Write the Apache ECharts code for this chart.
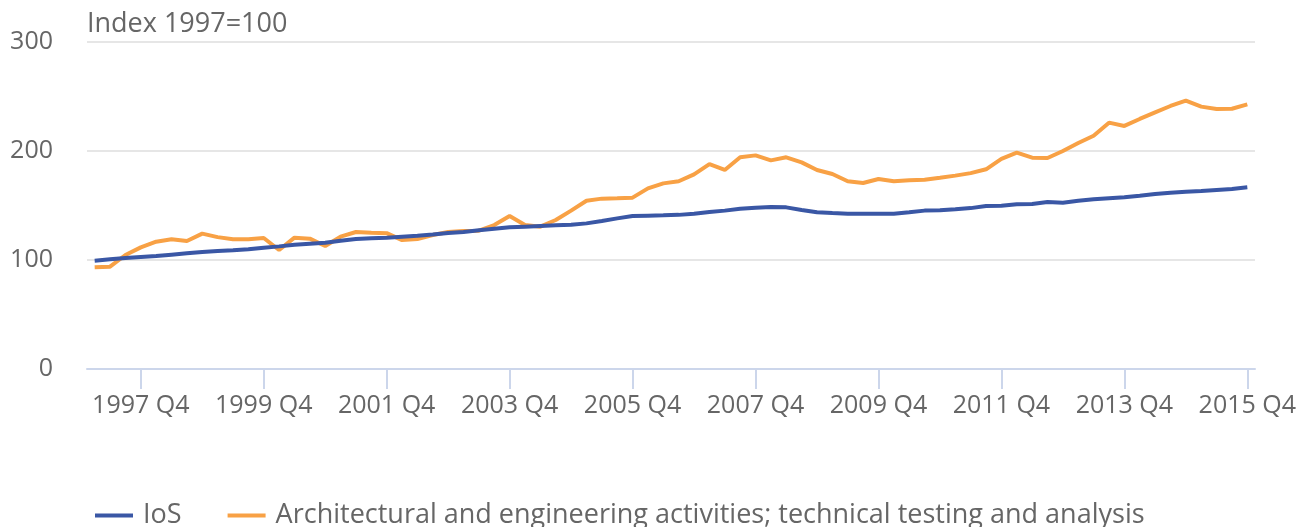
<!DOCTYPE html>
<html>
<head>
<meta charset="utf-8">
<script src="https://cdn.jsdelivr.net/npm/echarts@6/dist/echarts.min.js"></script>
<style>
html,body{margin:0;padding:0;background:#fff;}
#chart{width:1306px;height:527px;}
</style>
</head>
<body>
<div id="chart"></div>
<script>
var years = [1997,1998,1999,2000,2001,2002,2003,2004,2005,2006,2007,2008,2009,2010,2011,2012,2013,2014,2015];
var quarters = ['Q1','Q2','Q3','Q4'];
var categories = [];
years.forEach(function(y){ quarters.forEach(function(q){ categories.push(y + ' ' + q); }); });

var seriesNames = ['IoS', 'Architectural and engineering activities; technical testing and analysis'];

var iosValues = [99.4,100.6,101.8,102.8,103.7,104.9,106.1,107.3,108.3,108.9,109.8,111.3,112.5,114,115,115.9,117.7,119.3,119.9,120.5,
  121.4,122.3,123.5,124.8,125.7,127.2,128.7,130,130.6,131.2,131.8,132.4,133.6,135.8,138.2,140.4,140.7,141,141.4,
  142.5,144,145.3,147.1,148,148.6,148.3,145.9,143.8,143.1,142.5,142.5,142.5,142.5,143.8,145.3,145.6,146.5,147.6,
  149.5,149.8,151.1,151.4,153.2,152.6,154.4,155.7,156.6,157.5,159,160.6,161.8,162.7,163.3,164.2,165.1,166.7];

var archValues = [93.3,93.9,104.6,111.6,116.8,119,117.4,124.2,121,119,119,120.2,109.2,120.5,119.6,112.8,121.4,125.7,125.1,124.6,
  118.3,119.3,122.9,125.7,126.6,126.9,132.1,140.4,132.1,130.6,136.7,145.3,154.4,156.3,156.6,157.2,165.7,170.3,172.2,
  178.6,188,182.6,194.2,196,191.4,194.2,189.6,182.6,178.9,172.2,170.6,174.3,172.2,173.1,173.7,175.5,177.4,179.7,
  183.2,192.7,198.5,193.9,193.6,200,207.3,214,226,223,229.4,235.5,241.3,246.2,240.7,238.5,238.8,242.8];

var yTicks = [0, 100, 200, 300];
var yTitle = 'Index 1997=100';

var FONT = '"Open Sans", "Noto Sans", sans-serif';
var TXT = '#666666';
var colors = ['#3a57a5', '#f8a145'];

var chart = echarts.init(document.getElementById('chart'), null, {renderer: 'canvas'});
var showIdx = function(idx){ return idx % 8 === 3; };

chart.setOption({
  animation: false,
  color: colors,
  textStyle: {fontFamily: FONT},
  title: {
    text: yTitle,
    left: 87, top: 11, padding: 0,
    textStyle: {fontFamily: FONT, fontSize: 27, fontWeight: 'normal', color: TXT}
  },
  grid: {left: 87, right: 51, top: 42, bottom: 158, containLabel: false},
  legend: {
    left: 90, top: 497,
    icon: 'rect', itemWidth: 38, itemHeight: 4, itemGap: 46,
    textStyle: {fontFamily: FONT, fontSize: 27, color: TXT, padding: [0,0,0,5]},
    data: seriesNames
  },
  xAxis: {
    type: 'category',
    data: categories,
    boundaryGap: true,
    axisLine: {lineStyle: {color: '#ccd6eb', width: 2}},
    axisTick: {show: true, alignWithLabel: true, interval: showIdx, length: 20, lineStyle: {color: '#ccd6eb', width: 2}},
    axisLabel: {interval: showIdx, margin: 24, fontFamily: FONT, fontSize: 25, color: TXT},
    splitLine: {show: false}
  },
  yAxis: {
    type: 'value',
    min: yTicks[0], max: yTicks[yTicks.length-1], interval: 100,
    axisLine: {show: false},
    axisTick: {show: false},
    axisLabel: {margin: 34, fontFamily: FONT, fontSize: 25, color: TXT},
    splitLine: {lineStyle: {color: '#e6e6e6', width: 2}}
  },
  series: [
    {name: seriesNames[0], type: 'line', data: iosValues, showSymbol: false, lineStyle: {width: 4, color: colors[0]}, z: 3},
    {name: seriesNames[1], type: 'line', data: archValues, showSymbol: false, lineStyle: {width: 4, color: colors[1]}, z: 2}
  ]
});
</script>
</body>
</html>
